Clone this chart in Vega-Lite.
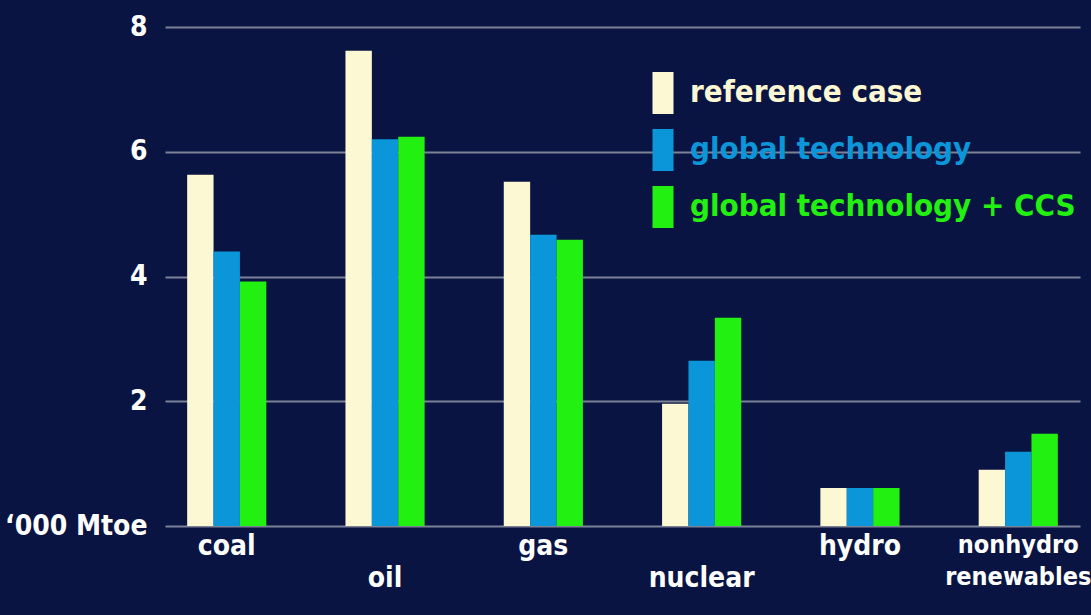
{
  "$schema": "https://vega.github.io/schema/vega-lite/v6.json",
  "autosize": "none",
  "width": 915,
  "height": 499,
  "padding": {"left": 165, "top": 27, "right": 11, "bottom": 89},
  "background": "#0a1442",
  "config": {
    "view": {"stroke": null},
    "font": "DejaVu Sans Condensed, Roboto, sans-serif"
  },
  "data": {
    "values": [
      {"fuel": "coal", "scenario": "reference case", "value": 5.63},
      {"fuel": "coal", "scenario": "global technology", "value": 4.40},
      {"fuel": "coal", "scenario": "global technology + CCS", "value": 3.92},
      {"fuel": "oil", "scenario": "reference case", "value": 7.62},
      {"fuel": "oil", "scenario": "global technology", "value": 6.20},
      {"fuel": "oil", "scenario": "global technology + CCS", "value": 6.24},
      {"fuel": "gas", "scenario": "reference case", "value": 5.52},
      {"fuel": "gas", "scenario": "global technology", "value": 4.67},
      {"fuel": "gas", "scenario": "global technology + CCS", "value": 4.59},
      {"fuel": "nuclear", "scenario": "reference case", "value": 1.96},
      {"fuel": "nuclear", "scenario": "global technology", "value": 2.65},
      {"fuel": "nuclear", "scenario": "global technology + CCS", "value": 3.34},
      {"fuel": "hydro", "scenario": "reference case", "value": 0.61},
      {"fuel": "hydro", "scenario": "global technology", "value": 0.61},
      {"fuel": "hydro", "scenario": "global technology + CCS", "value": 0.61},
      {"fuel": "nonhydro renewables", "scenario": "reference case", "value": 0.90},
      {"fuel": "nonhydro renewables", "scenario": "global technology", "value": 1.19},
      {"fuel": "nonhydro renewables", "scenario": "global technology + CCS", "value": 1.48}
    ]
  },
  "mark": {"type": "bar"},
  "encoding": {
    "x": {
      "field": "fuel",
      "type": "nominal",
      "sort": ["coal", "oil", "gas", "nuclear", "hydro", "nonhydro renewables"],
      "scale": {"paddingInner": 0.5, "paddingOuter": 0.14},
      "axis": {
        "title": null,
        "labelAngle": 0,
        "domain": false,
        "ticks": false,
        "labelColor": "#ffffff",
        "labelFontWeight": "bold",
        "labelFontSize": {"condition": {"test": "datum.value == 'nonhydro renewables'", "value": 25}, "value": 28},
        "labelPadding": 6,
        "labelLineHeight": 32,
        "labelExpr": "datum.value == 'nonhydro renewables' ? ['nonhydro', 'renewables'] : (datum.value == 'oil' || datum.value == 'nuclear') ? ['', datum.label] : datum.label"
      }
    },
    "xOffset": {
      "field": "scenario",
      "type": "nominal",
      "sort": ["reference case", "global technology", "global technology + CCS"],
      "scale": {"paddingInner": 0, "paddingOuter": 0}
    },
    "y": {
      "field": "value",
      "type": "quantitative",
      "scale": {"domain": [0, 8], "nice": false},
      "axis": {
        "title": null,
        "values": [0, 2, 4, 6, 8],
        "domain": false,
        "ticks": false,
        "grid": true,
        "gridColor": "#7c8198",
        "gridWidth": 2,
        "labelColor": "#ffffff",
        "labelFontSize": 28,
        "labelFontWeight": "bold",
        "labelPadding": 18,
        "labelExpr": "datum.value == 0 ? '‘000 Mtoe' : datum.label"
      }
    },
    "color": {
      "field": "scenario",
      "type": "nominal",
      "sort": ["reference case", "global technology", "global technology + CCS"],
      "scale": {
        "domain": ["reference case", "global technology", "global technology + CCS"],
        "range": ["#fdf8d4", "#0a96d8", "#22f010"]
      },
      "legend": {
        "title": null,
        "orient": "none",
        "legendX": 477,
        "legendY": 45,
        "padding": 0,
        "symbolType": "M-0.5,-1H0.5V1H-0.5Z",
        "symbolSize": 1764,
        "symbolStrokeWidth": 0,
        "symbolOpacity": 1,
        "labelFontSize": 31,
        "labelFontWeight": "bold",
        "labelOffset": 6,
        "rowPadding": 15,
        "labelLimit": 500,
        "encode": {
          "labels": {
            "update": {
              "fill": {"signal": "scale('color', datum.value)"}
            }
          }
        }
      }
    }
  }
}
